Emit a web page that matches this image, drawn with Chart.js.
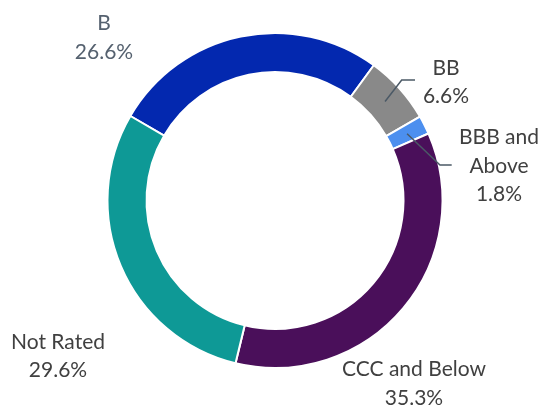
<!DOCTYPE html>
<html>
<head>
<meta charset="utf-8">
<style>
  html, body { margin: 0; padding: 0; background: #fff; }
  #wrap { width: 543px; height: 407px; }
</style>
</head>
<body>
<div id="wrap"><canvas id="ratingChart" width="543" height="407"></canvas></div>
<script src="https://cdn.jsdelivr.net/npm/chart.js"></script>
<script>
  // data
  const categories = ['B', 'BB', 'BBB and Above', 'CCC and Below', 'Not Rated'];
  const shares     = [26.6, 6.6, 1.8, 35.3, 29.6];
  const labelLines = [['B'], ['BB'], ['BBB and', 'Above'], ['CCC and Below'], ['Not Rated']];
  const colours    = ['#0328AF', '#898989', '#4C8FEF', '#4A0F5A', '#0E9996'];

  // where each label block sits, relative to the ring centre
  const labelPos = [
    { dx: -171, dy: -163, color: '#55616F' },
    { dx: 171, dy: -118.5, leader: [[126.7, -120.5], [140, -120.5]] },
    { dx: 224, dy: -34.5, leader: [[165, -35.5], [176.7, -35.5]] },
    { dx: 139, dy: 183 },
    { dx: -217, dy: 155.5 }
  ];

  const outsideLabels = {
    id: 'outsideLabels',
    afterDatasetsDraw(chart) {
      const ctx = chart.ctx;
      const arcs = chart.getDatasetMeta(0).data;
      ctx.save();
      ctx.font = '21px Lato';
      ctx.textAlign = 'center';
      ctx.textBaseline = 'middle';
      arcs.forEach((arc, i) => {
        const p = labelPos[i];
        const cx = arc.x, cy = arc.y;
        // leader line from the middle of the slice
        if (p.leader) {
          const mid = (arc.startAngle + arc.endAngle) / 2;
          const r = (arc.innerRadius + arc.outerRadius) / 2;
          ctx.strokeStyle = '#4B5966';
          ctx.lineWidth = 1.5;
          ctx.beginPath();
          ctx.moveTo(cx + Math.cos(mid) * r, cy + Math.sin(mid) * r);
          p.leader.forEach(([lx, ly]) => ctx.lineTo(cx + lx, cy + ly));
          ctx.stroke();
        }
        const lines = [...labelLines[i], shares[i].toFixed(1) + '%'];
        const lh = 28.5;
        const top = cy + p.dy - (lines.length - 1) * lh / 2;
        ctx.fillStyle = p.color || '#404040';
        lines.forEach((t, k) => ctx.fillText(t, cx + p.dx, top + k * lh));
      });
      ctx.restore();
    }
  };

  new Chart(document.getElementById('ratingChart'), {
    type: 'doughnut',
    data: {
      labels: categories,
      datasets: [{
        data: shares,
        backgroundColor: colours,
        borderColor: '#ffffff',
        borderWidth: 2,
        hoverOffset: 0
      }]
    },
    options: {
      responsive: false,
      animation: false,
      cutout: '76.7%',
      rotation: -59.7,
      layout: { padding: { top: 32, bottom: 38, left: 106.5, right: 99.5 } },
      plugins: {
        legend: { display: false },
        tooltip: { enabled: false }
      }
    },
    plugins: [outsideLabels]
  });
</script>
</body>
</html>
